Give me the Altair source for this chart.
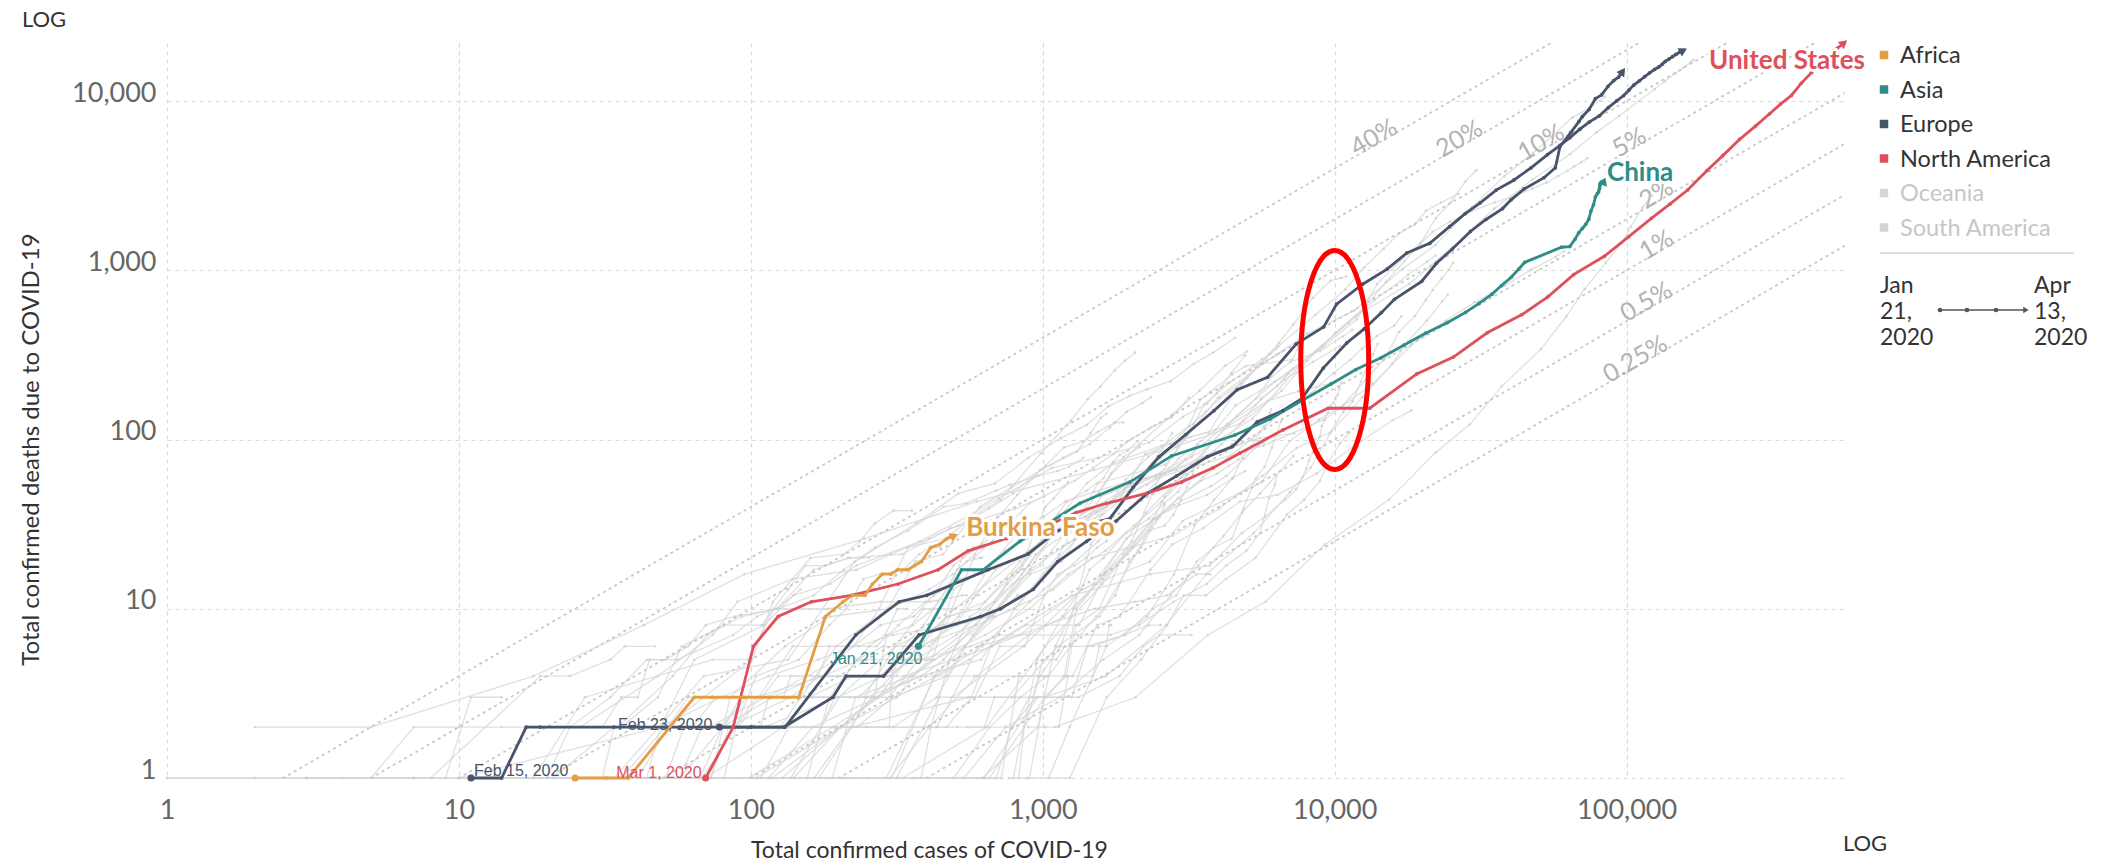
import altair as alt
import pandas as pd

# ---------------------------------------------------------------- scales
X_MAX = 555313
Y_MAX = 22020
X_TICKS = [1, 10, 100, 1000, 10000, 100000]
Y_TICKS = [1, 10, 100, 1000, 10000]

CONTINENTS = ["Africa", "Asia", "Europe", "North America", "Oceania", "South America"]
CONTINENT_COLORS = ["#e39e45", "#2f8d88", "#48546a", "#de505c", "#d4d4d4", "#d4d4d4"]
MUTED_CONTINENTS = ["Oceania", "South America"]

# case fatality reference lines
CFR_RATES = [0.4, 0.2, 0.1, 0.05, 0.02, 0.01, 0.005, 0.0025]
CFR_LABELS = ["40%", "20%", "10%", "5%", "2%", "1%", "0.5%", "0.25%"]
CFR_LABEL_CASES = [14000, 27500, 52400, 105000, 130000, 130000, 120000, 110000]

# ---------------------------------------------------------------- highlighted countries (cases, deaths)
BURKINA_FASO = [(25, 1), (32, 1), (38, 1), (64, 3), (74, 3), (94, 3), (115, 3), (146, 3), (180, 9),
                (207, 11), (222, 12), (246, 12), (261, 14), (282, 16), (302, 16), (318, 17), (345, 17),
                (364, 18), (384, 19), (414, 23), (443, 24), (470, 26), (497, 27)]

CHINA = [(375, 6), (527, 17), (625, 17), (834, 25), (1340, 42), (1985, 56), (2761, 80), (4537, 106),
         (5997, 132), (7736, 170), (9720, 213), (11821, 259), (14411, 304), (17238, 361), (20471, 425),
         (24363, 491), (28060, 564), (31211, 637), (34598, 723), (37251, 812), (40235, 909),
         (42708, 1017), (44730, 1114), (59865, 1368), (63851, 1380), (66492, 1523), (68500, 1665),
         (70548, 1770), (72436, 1868), (74185, 2004), (75465, 2236), (77042, 2445), (78190, 2718),
         (79394, 2838), (80174, 2915), (80711, 3045), (80981, 3161), (81239, 3261), (81661, 3293),
         (82079, 3316), (82447, 3333), (82804, 3341), (83157, 3349), (83597, 3351)]

FRANCE = [(11, 1), (14, 1), (17, 2), (19, 2), (34, 2), (57, 2), (100, 2), (130, 2), (191, 3), (212, 4),
          (285, 4), (377, 7), (613, 9), (716, 10), (927, 13), (1126, 19), (1412, 25), (1784, 33),
          (2281, 48), (2876, 61), (3661, 79), (4469, 91), (5423, 127), (6633, 148), (7730, 175),
          (9134, 264), (10995, 372), (12612, 450), (14459, 562), (16018, 674), (19856, 860),
          (22304, 1100), (25233, 1331), (29155, 1696), (32964, 1995), (37575, 2314), (40174, 2606),
          (44550, 3024), (52128, 3523), (56989, 4032), (59105, 5387), (64338, 6507), (68605, 7560),
          (70478, 8078), (74390, 8911), (78167, 10328), (82048, 10869), (86334, 12210), (90276, 13197),
          (93790, 13832), (95403, 14393), (96900, 14960)]

ITALY = [(78, 2), (100, 2), (131, 2), (229, 7), (322, 11), (400, 12), (650, 17), (888, 21), (1128, 29),
         (1694, 34), (2036, 52), (2502, 79), (3089, 107), (3858, 148), (4636, 197), (5883, 233),
         (7375, 366), (9172, 463), (10149, 631), (12462, 827), (15113, 1016), (17660, 1266),
         (21157, 1441), (24747, 1809), (27980, 2158), (31506, 2503), (35713, 2978), (41035, 3405),
         (47021, 4032), (53578, 4825), (59138, 5476), (63927, 6077), (69176, 6820), (74386, 7503),
         (80539, 8165), (86498, 9134), (92472, 10023), (97689, 10779), (101739, 11591),
         (105792, 12428), (110574, 13155), (115242, 13915), (119827, 14681), (124632, 15362),
         (128948, 15887), (132547, 16523), (135586, 17127), (139422, 17669), (143626, 18279),
         (147577, 18849), (152271, 19468), (156363, 19899)]

UNITED_STATES = [(70, 1), (87, 2), (102, 6), (124, 9), (161, 11), (221, 12), (319, 14), (438, 17),
                 (555, 22), (751, 26), (1000, 30), (1301, 37), (1652, 42), (2265, 48), (2985, 56),
                 (3830, 68), (4730, 83), (6650, 114), (9490, 153), (13180, 153), (19100, 244),
                 (25500, 307), (33300, 427), (43800, 547), (53700, 697), (65800, 942), (83800, 1209),
                 (101700, 1581), (121500, 2026), (140900, 2467), (161800, 2978), (188200, 3873),
                 (213400, 4757), (243500, 5926), (275600, 7087), (308900, 8407), (337100, 9619),
                 (366700, 10783), (396200, 12722), (429100, 14695), (461400, 16478), (496500, 18586),
                 (526400, 20463), (555313, 22020)]

HIGHLIGHTS = [
    ("Europe-France", "France", "Europe", FRANCE),
    ("Europe-Italy", "Italy", "Europe", ITALY),
    ("Asia-China", "China", "Asia", CHINA),
    ("NA-US", "United States", "North America", UNITED_STATES),
    ("Africa-BF", "Burkina Faso", "Africa", BURKINA_FASO),
]

START_DATES = {"France": "Feb 15, 2020", "Italy": "Feb 23, 2020",
               "United States": "Mar 1, 2020", "China": "Jan 21, 2020"}
START_STYLE = {
    "France": dict(align="left", dx=3, dy=-2, baseline="alphabetic"),
    "Italy": dict(align="right", dx=-7, dy=3, baseline="alphabetic"),
    "United States": dict(align="right", dx=-4, dy=0, baseline="alphabetic"),
    "China": dict(align="right", dx=4, dy=5, baseline="top"),
}
END_STYLE = {
    "Burkina Faso": dict(align="left", dx=12, dy=-8, baseline="middle"),
    "China": dict(align="left", dx=3, dy=0, baseline="alphabetic"),
    "United States": dict(align="right", dx=21, dy=26, baseline="alphabetic"),
}
ARROW_ANGLE = {"France": 305, "Italy": 332, "China": 290, "United States": 320, "Burkina Faso": 335}

# ---------------------------------------------------------------- other countries (cases, deaths)
GRAY = {
    "Spain": [(165, 1), (259, 3), (500, 10), (1073, 28), (2277, 54), (5232, 133), (7798, 289), (11748, 533),
              (17963, 830), (25374, 1375), (35136, 2311), (47610, 3434), (64059, 4858), (78797, 6528),
              (94417, 8189), (110238, 10003), (124736, 11744), (135032, 13055), (146690, 14555),
              (157022, 15843), (166019, 16972), (169496, 17489)],
    "United Kingdom": [(115, 1), (163, 2), (273, 3), (373, 6), (590, 8), (798, 10), (1140, 21), (1543, 55),
                       (2626, 71), (3983, 177), (5683, 281), (8077, 422), (11658, 578), (17089, 1019),
                       (22141, 1408), (29474, 2352), (38168, 3605), (47806, 4934), (55242, 6159),
                       (65077, 7978), (73758, 8958), (84279, 10612)],
    "Germany": [(1100, 2), (2078, 3), (3675, 7), (5795, 11), (9257, 24), (15320, 44), (22213, 84),
                (29056, 123), (37323, 206), (50871, 342), (62095, 533), (71808, 775), (84794, 1107),
                (96092, 1444), (103374, 1810), (113296, 2349), (122171, 2767)],
    "Iran": [(2, 2), (5, 2), (18, 4), (43, 8), (95, 16), (245, 26), (593, 43), (1501, 66), (2922, 92),
             (4747, 124), (6566, 194), (8042, 291), (10075, 429), (12729, 611), (14991, 853), (17361, 1135),
             (19644, 1433), (21638, 1685), (24811, 1934), (29406, 2234), (35408, 2517), (41495, 2757),
             (47593, 3036), (53183, 3294), (58226, 3603), (62589, 3872), (66220, 4110), (70029, 4357),
             (73303, 4585)],
    "Belgium": [(314, 3), (559, 5), (1058, 10), (1486, 14), (2257, 37), (3401, 75), (4269, 122), (6235, 220),
                (9134, 353), (11899, 513), (13964, 828), (16770, 1143), (19691, 1447), (22194, 2035),
                (24983, 2523), (28018, 3346), (30589, 3903)],
    "Netherlands": [(128, 1), (265, 3), (382, 4), (614, 5), (804, 10), (1135, 20), (1705, 43), (2460, 76),
                    (3631, 136), (4749, 213), (6412, 356), (8603, 546), (10866, 771), (12595, 1039),
                    (14697, 1339), (16627, 1651), (18803, 1867), (20549, 2248), (23097, 2511), (26551, 2823)],
    "Switzerland": [(491, 3), (858, 6), (1359, 13), (2330, 19), (3010, 33), (5615, 56), (7014, 98),
                    (8836, 131), (10714, 160), (12928, 231), (14829, 300), (16605, 433), (18827, 536),
                    (20505, 666), (21652, 765), (23280, 895), (24551, 1002), (25415, 1106)],
    "Turkey": [(98, 1), (191, 2), (359, 4), (670, 9), (947, 21), (1529, 37), (2433, 59), (5698, 92),
               (9217, 131), (13531, 214), (18135, 356), (23934, 501), (30217, 649), (38226, 812),
               (47029, 1006), (56956, 1198), (61049, 1296)],
    "Brazil": [(291, 1), (428, 4), (621, 6), (904, 11), (1546, 25), (2201, 46), (2915, 77), (3904, 114),
               (4579, 159), (6836, 241), (9056, 359), (11130, 486), (13717, 667), (17857, 941),
               (20727, 1124), (22169, 1223)],
    "Canada": [(93, 1), (157, 1), (304, 1), (424, 4), (690, 9), (1087, 13), (1470, 20), (2792, 27),
               (4018, 39), (5655, 61), (7398, 89), (9731, 111), (12437, 178), (15756, 280), (17872, 381),
               (20654, 503), (23318, 653), (24383, 717)],
    "Sweden": [(620, 1), (961, 2), (1103, 6), (1279, 10), (1623, 16), (2016, 25), (2526, 62), (3069, 102),
               (3700, 110), (4435, 180), (5568, 282), (6443, 373), (7206, 477), (8419, 687), (9685, 870),
               (10483, 899), (10948, 919)],
    "Austria": [(361, 1), (655, 1), (1016, 3), (1646, 4), (2649, 8), (3631, 16), (5283, 28), (7029, 49),
                (8271, 68), (9618, 108), (10711, 146), (11524, 168), (12297, 220), (12942, 273),
                (13555, 319), (14041, 368)],
    "Portugal": [(331, 1), (642, 2), (1020, 6), (1600, 14), (2362, 33), (3544, 60), (5170, 100), (6408, 140),
                 (8251, 187), (9886, 246), (11278, 295), (12442, 345), (13956, 409), (15987, 470),
                 (16934, 535)],
    "South Korea": [(104, 1), (204, 2), (433, 2), (602, 6), (833, 7), (1261, 12), (2337, 16), (3736, 18),
                    (4812, 28), (5766, 35), (6767, 44), (7382, 51), (7755, 60), (7979, 67), (8162, 75),
                    (8413, 84), (8652, 94), (8897, 104), (9037, 120), (9241, 131), (9478, 144),
                    (9661, 158), (9887, 165), (10062, 174), (10237, 183), (10384, 200), (10537, 217)],
    "Japan": [(29, 1), (66, 1), (105, 1), (156, 1), (186, 3), (230, 5), (284, 6), (408, 6), (514, 9),
              (675, 19), (824, 28), (1007, 35), (1193, 43), (1499, 49), (1953, 56), (2617, 63),
              (3906, 85), (4768, 94), (5548, 102), (7255, 109)],
    "Philippines": [(3, 1), (10, 1), (49, 2), (64, 5), (111, 8), (140, 12), (187, 14), (230, 18), (380, 25),
                    (552, 35), (707, 45), (1075, 68), (1546, 78), (2311, 96), (3018, 136), (3660, 163),
                    (4076, 203), (4428, 247), (4932, 315)],
    "Iraq": [(35, 2), (54, 4), (71, 7), (93, 9), (124, 10), (164, 12), (208, 17), (266, 23), (346, 29),
             (458, 40), (547, 42), (694, 50), (772, 54), (961, 61), (1122, 65), (1232, 69), (1378, 78)],
    "San Marino": [(21, 1), (36, 1), (51, 2), (69, 3), (101, 5), (119, 11), (160, 20), (208, 21), (236, 25),
                   (266, 32), (308, 38), (356, 38)],
    "Egypt": [(67, 1), (80, 2), (126, 2), (196, 6), (294, 10), (366, 19), (456, 21), (609, 40), (779, 52),
              (985, 66), (1173, 78), (1450, 94), (1699, 118), (1939, 146), (2190, 164), (2350, 178)],
    "Algeria": [(26, 2), (48, 4), (74, 7), (90, 11), (139, 15), (230, 17), (302, 21), (409, 26), (511, 31),
                (716, 44), (986, 83), (1251, 130), (1423, 173), (1572, 205), (1761, 256), (1914, 293),
                (2070, 326)],
    "Indonesia": [(34, 1), (69, 4), (134, 5), (227, 19), (369, 32), (514, 48), (685, 55), (893, 78),
                  (1155, 102), (1414, 122), (1677, 157), (1986, 181), (2273, 198), (2738, 221),
                  (3293, 280), (3842, 327), (4557, 399)],
    "India": [(73, 1), (84, 2), (137, 3), (173, 4), (283, 4), (468, 9), (606, 10), (834, 19), (1024, 27),
              (1397, 35), (2069, 53), (3082, 77), (4289, 124), (5351, 160), (6725, 226), (8446, 288),
              (10453, 358)],
    "Greece": [(66, 1), (117, 1), (190, 1), (228, 3), (352, 4), (418, 5), (495, 13), (624, 17), (743, 22),
               (892, 26), (1061, 32), (1212, 43), (1415, 50), (1613, 59), (1735, 73), (1832, 81),
               (1955, 86), (2114, 98)],
    "Argentina": [(12, 1), (19, 1), (31, 1), (34, 2), (56, 2), (79, 2), (97, 3), (158, 3), (225, 4),
                  (301, 4), (387, 6), (502, 8), (589, 12), (690, 17), (820, 20), (966, 24), (1133, 36),
                  (1353, 42), (1554, 48), (1715, 63), (1894, 79), (2142, 90)],
    "Morocco": [(3, 1), (7, 1), (18, 1), (38, 1), (44, 1), (49, 2), (79, 3), (115, 4), (170, 5), (225, 6),
                (275, 10), (345, 23), (463, 26), (556, 33), (654, 39), (791, 48), (1021, 70), (1184, 90),
                (1374, 97), (1545, 111), (1763, 126), (1888, 126)],
    "Ecuador": [(58, 2), (111, 2), (199, 3), (367, 5), (506, 7), (789, 14), (981, 18), (1211, 29),
                (1595, 36), (1924, 58), (2302, 79), (3163, 120), (3465, 172), (3747, 191), (4450, 242),
                (4965, 272), (7161, 297), (7529, 355)],
    "Dominican Republic": [(21, 1), (34, 2), (72, 2), (112, 3), (245, 3), (312, 6), (392, 10), (488, 10),
                           (581, 20), (719, 28), (901, 42), (1284, 57), (1488, 68), (1745, 82),
                           (1956, 98), (2349, 118), (2759, 135), (3167, 177)],
    "Panama": [(27, 1), (43, 1), (69, 1), (109, 1), (137, 1), (200, 3), (313, 6), (443, 8), (674, 9),
               (901, 17), (1075, 27), (1317, 32), (1673, 41), (1988, 54), (2249, 59), (2752, 66),
               (3234, 79), (3400, 94)],
    "Mexico": [(118, 1), (203, 2), (316, 3), (405, 5), (585, 8), (848, 16), (1094, 28), (1378, 37),
               (1688, 60), (2143, 94), (2785, 141), (3441, 194), (4219, 273), (5014, 332)],
    "Colombia": [(231, 2), (306, 3), (470, 4), (539, 6), (702, 10), (906, 16), (1161, 19), (1406, 32),
                 (1579, 46), (2054, 55), (2473, 80), (2776, 109)],
    "Chile": [(537, 1), (746, 2), (1142, 3), (1610, 5), (2139, 7), (2738, 12), (3404, 18), (4161, 27),
              (4815, 37), (5546, 48), (6501, 65), (7213, 80)],
    "Israel": [(883, 1), (1238, 1), (1656, 3), (2170, 5), (2666, 8), (3035, 12), (3619, 12), (4247, 15),
               (5358, 20), (6857, 36), (7851, 44), (8904, 57), (9404, 71), (10408, 95), (11235, 110)],
    "Russia": [(147, 1), (253, 1), (367, 1), (495, 1), (658, 2), (840, 3), (1036, 4), (1264, 4), (1534, 8),
               (1836, 9), (2337, 17), (2777, 24), (3548, 30), (4731, 43), (6343, 47), (8672, 63),
               (11917, 94), (15770, 130), (18328, 148)],
    "Norway": [(489, 1), (629, 1), (961, 3), (1256, 3), (1423, 6), (1914, 7), (2373, 10), (2866, 12),
               (3369, 19), (3845, 23), (4445, 26), (4863, 39), (5370, 59), (5755, 69), (6086, 89),
               (6314, 108), (6551, 128)],
    "Denmark": [(827, 1), (864, 2), (977, 4), (1151, 6), (1255, 9), (1460, 24), (1715, 34), (2046, 52),
                (2366, 72), (2860, 90), (3290, 123), (3573, 161), (3946, 187), (4369, 218), (4875, 247),
                (5266, 273), (5635, 299), (5996, 321), (6318, 346)],
    "Ireland": [(70, 1), (129, 2), (223, 2), (557, 3), (785, 3), (1125, 6), (1564, 9), (2121, 22),
                (2615, 46), (3235, 71), (3849, 98), (4604, 137), (5364, 174), (6074, 235), (7054, 287),
                (8928, 334), (10647, 406), (11479, 444)],
    "Romania": [(308, 2), (433, 3), (576, 7), (906, 17), (1292, 26), (1815, 43), (2245, 82), (2738, 94),
                (3613, 146), (4057, 176), (4761, 215), (5467, 270), (6300, 315), (6633, 331)],
    "Poland": [(68, 1), (104, 3), (177, 4), (238, 5), (425, 5), (634, 7), (901, 10), (1221, 16), (1638, 22),
               (2055, 31), (2554, 43), (3383, 71), (4102, 94), (4848, 129), (5575, 174), (6356, 208),
               (6934, 245), (7202, 263)],
    "Serbia": [(171, 1), (222, 2), (249, 3), (384, 4), (457, 5), (659, 10), (785, 16), (1060, 28),
               (1476, 39), (1908, 51), (2447, 61), (2867, 66), (3380, 74), (4054, 85), (4465, 94)],
    "Hungary": [(50, 1), (73, 1), (85, 3), (131, 6), (187, 9), (300, 10), (408, 13), (492, 16), (585, 21),
                (678, 32), (817, 47), (980, 66), (1310, 85), (1458, 109), (1579, 134), (1652, 142)],
    "Luxembourg": [(140, 1), (203, 2), (335, 4), (670, 6), (875, 8), (1333, 8), (1605, 15), (1950, 21),
                   (2319, 29), (2612, 31), (2804, 36), (2970, 44), (3115, 52), (3270, 62), (3307, 72)],
    "Pakistan": [(184, 1), (299, 1), (409, 2), (594, 4), (892, 7), (1179, 9), (1526, 14), (1938, 26),
                 (2421, 34), (2818, 41), (3766, 53), (4263, 61), (4892, 77), (5496, 93), (5716, 96)],
    "Sudan": [(1, 1), (2, 1), (3, 1), (5, 1), (7, 2), (10, 2), (14, 2), (19, 2)],
    "Guyana": [(1, 1), (4, 1), (7, 1), (8, 1), (19, 4), (24, 4), (33, 5), (37, 6), (47, 6)],
    "Zimbabwe": [(3, 1), (5, 1), (7, 1), (9, 1), (11, 3), (14, 3)],
    "DR Congo": [(36, 2), (48, 3), (58, 6), (81, 8), (109, 8), (134, 13), (154, 18), (180, 18), (215, 20),
                 (241, 20), (254, 20)],
    "Mali": [(25, 2), (31, 2), (36, 3), (41, 3), (45, 5), (56, 5), (87, 7), (105, 9), (123, 10), (148, 13)],
    "Niger": [(10, 1), (18, 1), (27, 3), (74, 5), (98, 5), (120, 10), (184, 10), (278, 11), (410, 11),
              (529, 12), (548, 12)],
    "Cameroon": [(91, 2), (139, 6), (233, 6), (306, 7), (509, 8), (650, 9), (730, 10), (820, 12), (848, 12)],
    "Tunisia": [(114, 3), (197, 5), (278, 8), (362, 9), (423, 12), (495, 18), (574, 22), (623, 23),
                (671, 25), (707, 31)],
    "Bangladesh": [(10, 1), (20, 1), (24, 2), (33, 3), (44, 5), (51, 5), (61, 6), (70, 8), (88, 9),
                   (123, 10), (164, 17), (218, 20), (330, 21), (482, 30), (621, 34), (803, 39), (1012, 46)],
    "Hong Kong": [(17, 1), (36, 1), (57, 1), (68, 2), (91, 2), (108, 2), (115, 3), (129, 3), (137, 4),
                  (162, 4), (317, 4), (582, 4), (845, 4), (960, 4), (1010, 4)],
    "Taiwan": [(18, 1), (30, 1), (45, 1), (67, 1), (108, 1), (135, 2), (195, 2), (252, 2), (298, 2),
               (306, 5), (339, 5), (376, 5), (380, 6), (388, 6)],
    "Singapore": [(432, 2), (509, 2), (631, 2), (683, 3), (802, 3), (926, 3), (1000, 5), (1114, 5),
                  (1189, 6), (1481, 6), (1910, 7), (2299, 8), (2532, 8)],
    "Australia": [(25, 1), (41, 1), (52, 2), (63, 2), (76, 3), (128, 3), (249, 3), (298, 3), (375, 5),
                  (565, 6), (709, 7), (1316, 7), (1709, 7), (2136, 8), (2807, 11), (3640, 14), (4250, 18),
                  (4976, 22), (5548, 28), (5956, 45), (6238, 54), (6313, 61)],
    "Thailand": [(42, 1), (75, 1), (114, 1), (212, 1), (322, 1), (599, 1), (721, 1), (827, 4), (1045, 4),
                 (1245, 6), (1524, 9), (1771, 12), (1978, 19), (2169, 23), (2369, 30), (2518, 35),
                 (2613, 41)],
    "Malaysia": [(553, 2), (790, 2), (900, 3), (1030, 3), (1183, 4), (1306, 10), (1624, 16), (2031, 23),
                 (2470, 34), (2908, 45), (3483, 57), (3963, 63), (4346, 70), (4683, 76)],
    "Saudi Arabia": [(767, 1), (900, 1), (1012, 3), (1203, 4), (1299, 8), (1563, 10), (1885, 21),
                     (2385, 34), (2932, 41), (3651, 47), (4462, 59), (4934, 65)],
    "United Arab Emirates": [(153, 2), (248, 2), (405, 2), (468, 2), (570, 3), (664, 6), (1024, 8),
                             (1505, 10), (2076, 11), (2659, 12), (3360, 16), (3736, 16)],
    "Qatar": [(590, 1), (693, 1), (781, 2), (949, 3), (1325, 3), (1832, 4), (2210, 6), (2512, 7), (3231, 7)],
    "Iceland": [(890, 2), (1020, 2), (1135, 2), (1220, 4), (1486, 4), (1562, 6), (1648, 6), (1689, 8),
                (1711, 8)],
    "Slovenia": [(141, 1), (219, 1), (286, 1), (383, 1), (414, 2), (480, 5), (562, 9), (684, 11), (756, 14),
                 (841, 17), (934, 28), (1021, 40), (1091, 45), (1188, 53), (1220, 56)],
    "Croatia": [(206, 1), (315, 1), (442, 3), (586, 3), (713, 6), (867, 6), (1011, 12), (1126, 16),
                (1282, 18), (1407, 20), (1534, 23), (1650, 25), (1704, 28)],
    "Bulgaria": [(51, 2), (81, 2), (92, 3), (163, 3), (218, 3), (264, 3), (293, 7), (359, 8), (422, 10),
                 (485, 14), (531, 20), (577, 23), (618, 24), (685, 28)],
    "Albania": [(51, 1), (59, 2), (89, 2), (104, 4), (146, 5), (186, 8), (212, 10), (243, 15), (277, 16),
                (333, 17), (377, 21), (409, 23), (446, 23)],
    "Lebanon": [(52, 2), (61, 3), (109, 3), (124, 4), (304, 4), (333, 6), (391, 8), (438, 11), (479, 14),
                (508, 17), (548, 19), (609, 20), (619, 20)],
    "Nigeria": [(30, 1), (46, 1), (81, 1), (89, 2), (174, 2), (210, 4), (232, 5), (254, 6), (288, 7),
                (318, 10), (343, 10)],
    "Cuba": [(35, 1), (57, 1), (80, 2), (119, 3), (170, 4), (186, 6), (269, 6), (320, 8), (396, 11),
             (515, 15), (620, 16), (726, 21)],
    "Peru": [(234, 3), (318, 5), (395, 5), (480, 9), (635, 11), (852, 18), (1065, 30), (1414, 55),
             (1746, 73), (2561, 92), (4342, 121), (5897, 169), (7519, 193), (9784, 216)],
    "Czechia": [(1047, 1), (1236, 2), (1654, 6), (2279, 9), (2817, 16), (3308, 31), (3858, 44), (4472, 59),
                (4822, 78), (5312, 99), (5732, 119), (5991, 143), (6059, 151)],
    "Finland": [(792, 1), (958, 5), (1167, 9), (1352, 13), (1446, 17), (1615, 20), (1927, 28), (2308, 34),
                (2605, 42), (2905, 49), (3064, 59)],
}

TIME_START = "Jan\n21,\n2020"
TIME_END = "Apr\n13,\n2020"

# ---------------------------------------------------------------- frames
def series_frame(key, name, continent, pairs):
    return pd.DataFrame({
        "key": key,
        "country": name,
        "continent": continent,
        "cases": [c for c, _ in pairs],
        "deaths": [d for _, d in pairs],
        "step": list(range(len(pairs))),
    })


gray_df = pd.concat([series_frame(n, n, "other", p) for n, p in GRAY.items()], ignore_index=True)
hi_df = pd.concat([series_frame(k, n, c, p) for k, n, c, p in HIGHLIGHTS], ignore_index=True)
first_df = hi_df[hi_df["step"] == 0]
last_df = hi_df.groupby("key").tail(1)

cfr_rows = []
for rate, label in zip(CFR_RATES, CFR_LABELS):
    end_cases = min(X_MAX, Y_MAX / rate)
    cfr_rows.append({"rate": label, "cases": 1 / rate, "deaths": 1.0, "step": 0})
    cfr_rows.append({"rate": label, "cases": end_cases, "deaths": end_cases * rate, "step": 1})
cfr_df = pd.DataFrame(cfr_rows)
cfr_label_df = pd.DataFrame({
    "rate": CFR_LABELS,
    "cases": CFR_LABEL_CASES,
    "deaths": [r * c for r, c in zip(CFR_RATES, CFR_LABEL_CASES)],
})

color_of = dict(zip(CONTINENTS, CONTINENT_COLORS))
continent_of = {n: c for _, n, c, _ in HIGHLIGHTS}
ONE = pd.DataFrame({"k": [0]})

# ---------------------------------------------------------------- encodings
FONT = "Lato"
x_scale = alt.Scale(type="log", domain=[1, X_MAX], nice=False, zero=False)
y_scale = alt.Scale(type="log", domain=[1, Y_MAX], nice=False, zero=False)

X = alt.X(
    "cases:Q", scale=x_scale,
    axis=alt.Axis(
        values=X_TICKS, format=",", title="Total confirmed cases of COVID-19",
        grid=True, gridDash=[4, 4], gridColor="#d9d9d9", gridWidth=1.2,
        domain=False, ticks=False, labelFlush=False, labelOverlap=False,
        labelFont=FONT, labelFontSize=27, labelColor="#666666", labelPadding=19,
        titleFont=FONT, titleFontSize=23, titleFontWeight="normal", titleColor="#333333",
        titleX=762, titleY=79, titleAlign="center", titleBaseline="alphabetic",
    ),
)
Y = alt.Y(
    "deaths:Q", scale=y_scale,
    axis=alt.Axis(
        values=Y_TICKS, format=",", title="Total confirmed deaths due to COVID-19",
        grid=True, gridDash=[4, 4], gridColor="#d9d9d9", gridWidth=1.2,
        domain=False, ticks=False, labelFlush=False, labelOverlap=False,
        labelFont=FONT, labelFontSize=27, labelColor="#666666", labelPadding=11,
        labelBaseline="alphabetic",
        titleFont=FONT, titleFontSize=24, titleFontWeight="normal", titleColor="#333333",
        titleX=-129, titleY=406, titleAngle=270, titleAlign="center", titleBaseline="alphabetic",
    ),
)
color_scale = alt.Scale(domain=CONTINENTS, range=CONTINENT_COLORS)
hi_color = alt.Color("continent:N", scale=color_scale, legend=None)

layers = []

# background countries
layers.append(
    alt.Chart(gray_df).mark_line(
        color="#d6d6d6", strokeWidth=1.3, opacity=0.75,
        point=alt.OverlayMarkDef(filled=True, size=7, color="#cfcfcf", opacity=0.8),
    ).encode(x=X, y=Y, detail="key:N", order="step:Q")
)

# case fatality reference lines and their labels
layers.append(
    alt.Chart(cfr_df).mark_line(color="#c8c8c8", strokeWidth=1.8, strokeDash=[1.5, 5], strokeCap="round")
    .encode(x=X, y=Y, detail="rate:N", order="step:Q")
)
layers.append(
    alt.Chart(cfr_label_df).mark_text(
        font=FONT, fontSize=25, color="#b3b3b3", angle=330, align="center", baseline="middle", dy=-7,
    ).encode(x=X, y=Y, text="rate:N")
)

# highlighted countries
layers.append(
    alt.Chart(hi_df).mark_line(strokeWidth=2.8)
    .encode(x=X, y=Y, detail="key:N", order="step:Q", color=hi_color)
)
layers.append(
    alt.Chart(hi_df).mark_circle(size=14, opacity=1).encode(x=X, y=Y, color=hi_color)
)
layers.append(
    alt.Chart(first_df).mark_circle(size=50, opacity=1).encode(x=X, y=Y, color=hi_color)
)

# arrowheads at the latest point
for key, name, continent, _ in HIGHLIGHTS:
    layers.append(
        alt.Chart(last_df[last_df["key"] == key]).mark_point(
            shape="triangle-right", filled=True, size=90, opacity=1,
            color=color_of[continent], angle=ARROW_ANGLE[name],
        ).encode(x=X, y=Y)
    )

# start-date labels
for name, text in START_DATES.items():
    style = START_STYLE[name]
    layers.append(
        alt.Chart(first_df[first_df["country"] == name]).mark_text(
            text=text, font="Liberation Sans", fontSize=16, color=color_of[continent_of[name]], **style,
        ).encode(x=X, y=Y)
    )

# country name labels at the end of the lines
for name, style in END_STYLE.items():
    sub = last_df[last_df["country"] == name]
    layers.append(
        alt.Chart(sub).mark_text(
            text=name, font=FONT, fontSize=26, fontWeight="bold",
            stroke="white", strokeWidth=6, strokeJoin="round", color="white", **style,
        ).encode(x=X, y=Y)
    )
    layers.append(
        alt.Chart(sub).mark_text(
            text=name, font=FONT, fontSize=26, fontWeight="bold",
            color=color_of[continent_of[name]], **style,
        ).encode(x=X, y=Y)
    )

# red ring drawn around the 10,000-case region
RING_CENTER = pd.DataFrame({"cases": [10000], "deaths": [295]})
layers.append(
    alt.Chart(RING_CENTER).mark_point(
        shape="M -0.31,0 A 0.31,1 0 1,0 0.31,0 A 0.31,1 0 1,0 -0.31,0 Z",
        size=47961, filled=False, stroke="#ff0000", strokeWidth=5, opacity=1,
    ).encode(x=X, y=Y)
)

# scale-type captions
for px, py in ((-123, -23), (1698, 801)):
    layers.append(
        alt.Chart(ONE).mark_text(text="LOG", font=FONT, fontSize=22, color="#333333",
                                 align="center", baseline="middle")
        .encode(x=alt.value(px), y=alt.value(py))
    )

# continent key
LEGEND_LEFT = 1717
LEGEND_TOP = 12
LEGEND_ROW = 34.5
for i, name in enumerate(CONTINENTS):
    row_y = LEGEND_TOP + i * LEGEND_ROW
    text_color = "#c6c6c6" if name in MUTED_CONTINENTS else "#333333"
    layers.append(
        alt.Chart(ONE).mark_square(size=72, color=color_of[name], opacity=1)
        .encode(x=alt.value(LEGEND_LEFT), y=alt.value(row_y))
    )
    layers.append(
        alt.Chart(ONE).mark_text(text=name, font=FONT, fontSize=23.5, color=text_color,
                                 align="left", baseline="middle")
        .encode(x=alt.value(LEGEND_LEFT + 16), y=alt.value(row_y + 1))
    )

# time-range key under the continent key
layers.append(
    alt.Chart(ONE).mark_rule(color="#dddddd", strokeWidth=2)
    .encode(x=alt.value(1713), x2=alt.value(1907), y=alt.value(210))
)
layers.append(
    alt.Chart(ONE).mark_text(text=TIME_START, lineBreak="\n", lineHeight=26, font=FONT, fontSize=23,
                             color="#333333", align="left", baseline="top")
    .encode(x=alt.value(1713), y=alt.value(232))
)
layers.append(
    alt.Chart(ONE).mark_text(text=TIME_END, lineBreak="\n", lineHeight=26, font=FONT, fontSize=23,
                             color="#333333", align="left", baseline="top")
    .encode(x=alt.value(1867), y=alt.value(232))
)
layers.append(
    alt.Chart(ONE).mark_rule(color="#555555", strokeWidth=1.5)
    .encode(x=alt.value(1773), x2=alt.value(1858), y=alt.value(267))
)
for px in (1773, 1800, 1829):
    layers.append(
        alt.Chart(ONE).mark_circle(color="#555555", size=22, opacity=1)
        .encode(x=alt.value(px), y=alt.value(267))
    )
layers.append(
    alt.Chart(ONE).mark_point(shape="triangle-right", filled=True, color="#555555", size=40, opacity=1)
    .encode(x=alt.value(1859), y=alt.value(267))
)

chart = (
    alt.layer(*layers)
    .properties(
        width=1677, height=735,
        padding={"left": 167, "top": 43, "right": 272, "bottom": 84},
        autosize=alt.AutoSizeParams(type="none"),
        background="white",
    )
    .configure_view(stroke=None)
)

chart.save("out.html", embed_options={"renderer": "svg", "actions": False})
